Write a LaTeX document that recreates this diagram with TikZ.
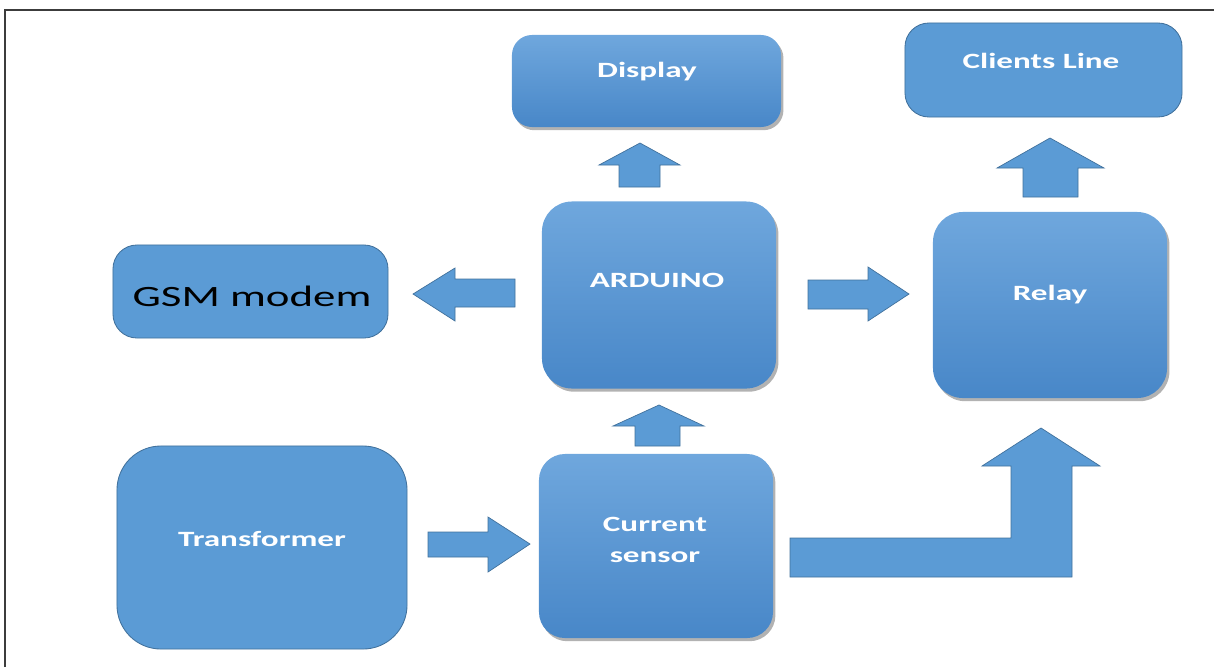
\documentclass[tikz,border=0pt]{standalone}
\usepackage{fontspec}
\usepackage{xcolor}
\usepackage{tikz}
\usetikzlibrary{shadows}
\newfontfamily\boxfont[FakeStretch=1.52]{Carlito}
\definecolor{boxfill}{HTML}{5B9BD5}
\definecolor{boxtop}{HTML}{6FA7DD}
\definecolor{boxbot}{HTML}{4887C8}
\definecolor{boxline}{HTML}{41719C}
\definecolor{framec}{HTML}{3C3C3C}
\tikzset{
  box/.style={rounded corners=#1, draw=none, top color=boxtop, bottom color=boxbot,
    drop shadow={shadow xshift=0.06cm, shadow yshift=-0.08cm, opacity=0.3, fill=black},
    inner sep=0pt},
  box/.default=0.75cm,
  flatbox/.style={rounded corners=#1, draw=boxline, line width=0.6pt, fill=boxfill, inner sep=0pt},
  flatbox/.default=0.6cm,
  wtxt/.style={text=white, font=\boxfont\bfseries\fontsize{15.5}{22}\selectfont, align=center, inner sep=0pt},
  btxt/.style={text=black, font=\boxfont\fontsize{21}{25}\selectfont, inner sep=0pt},
  blk/.style={fill=boxfill, draw=boxline, line width=0.5pt, line join=miter},
  frame/.style={draw=framec, line width=1.4pt}
}
\begin{document}
\begin{tikzpicture}[x=0.025cm, y=-0.025cm]
  \useasboundingbox (0,0) rectangle (1214,667);
  \draw[frame] (5,667) -- (5,10) -- (1214,10);

  % blocks
  \node[box=0.5cm, minimum width=6.725cm, minimum height=2.3cm] (disp) at (646.5,81) {};
  \node[flatbox, minimum width=6.925cm, minimum height=2.35cm] (cli) at (1043.5,70) {};
  \node[box, minimum width=5.85cm, minimum height=4.675cm] (ard) at (659,295) {};
  \node[box, minimum width=5.85cm, minimum height=4.65cm] (rel) at (1050,305) {};
  \node[flatbox, minimum width=6.875cm, minimum height=2.325cm] (gsm) at (250.5,291.5) {};
  \node[flatbox=1.1cm, minimum width=7.25cm, minimum height=5.075cm] (trf) at (262,547.5) {};
  \node[box=0.65cm, minimum width=5.85cm, minimum height=4.6cm] (cur) at (656,546) {};

  % labels
  \node[wtxt] (displbl) at (647,72) {Display};
  \node[wtxt] (clilbl) at (1041,61) {Clients Line};
  \node[wtxt] (ardlbl) at (657,280) {ARDUINO};
  \node[wtxt] (rellbl) at (1050,295) {Relay};
  \node[btxt] (gsmlbl) at (252,296) {GSM modem};
  \node[wtxt] (trflbl) at (262,539) {Transformer};
  \node[wtxt] (curlbl) at (655,540) {Current\\sensor};

  % block arrows
  \draw[blk] (619,187) -- (619,165) -- (599,165) -- (640,143) -- (680,165) -- (660,165) -- (660,187) -- cycle;
  \draw[blk] (1023,197) -- (1023,168) -- (997,168) -- (1050,138) -- (1104,168) -- (1078,168) -- (1078,197) -- cycle;
  \draw[blk] (515,279) -- (455,279) -- (455,268) -- (413,294) -- (455,321) -- (455,307) -- (515,307) -- cycle;
  \draw[blk] (808,280) -- (868,280) -- (868,267) -- (909,294) -- (868,321) -- (868,309) -- (808,309) -- cycle;
  \draw[blk] (635,446) -- (635,426) -- (613,426) -- (659,405) -- (704,426) -- (680,426) -- (680,446) -- cycle;
  \draw[blk] (428,532) -- (488,532) -- (488,517) -- (530,544) -- (488,572) -- (488,557) -- (428,557) -- cycle;
  \draw[blk] (790,538) -- (1011,538) -- (1011,466) -- (982,466) -- (1041,428) -- (1100,466)
    -- (1072,466) -- (1072,577) -- (790,577) -- cycle;
\end{tikzpicture}
\end{document}
